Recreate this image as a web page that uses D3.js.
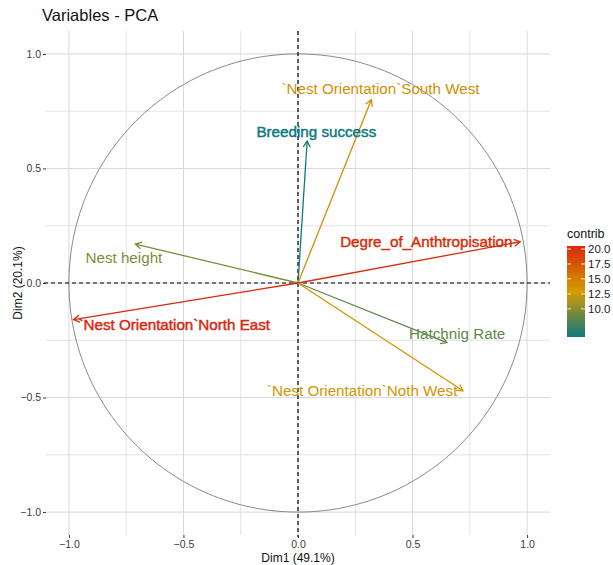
<!DOCTYPE html>
<html>
<head>
<meta charset="utf-8">
<script src="https://cdn.jsdelivr.net/npm/d3@7"></script>
<style>
  html, body { margin: 0; padding: 0; background: #fff; }
  svg { display: block; font-family: "Liberation Sans", Arial, sans-serif; }
</style>
</head>
<body>
<svg id="chart" width="613" height="565"></svg>
<script>
// PCA variable loadings on the first two dimensions
const variables = [
  "Breeding success",
  "`Nest Orientation`South West",
  "Degre_of_Anthtropisation",
  "Nest height",
  "`Nest Orientation`North East",
  "Hatchnig Rate",
  "`Nest Orientation`Noth West"
];
const dim1 = [0.04, 0.32, 0.97, -0.71, -0.98, 0.65, 0.72];
const dim2 = [0.62, 0.80, 0.18, 0.17, -0.16, -0.26, -0.47];
const contrib = [5.3, 13.8, 20.1, 9.6, 20.5, 8.4, 13.4];
const axisTicks = [-1.0, -0.5, 0.0, 0.5, 1.0];
const minorTicks = [-0.75, -0.25, 0.25, 0.75];
const legendTicks = [10.0, 12.5, 15.0, 17.5, 20.0];
const dimLabels = ["Dim1 (49.1%)", "Dim2 (20.1%)"];

// Label placement relative to each arrow tip, in data units
const labelNudge = [
  [0.04, 0.04], [0.04, 0.05], [-0.41, 0.0], [-0.05, -0.06],
  [0.44, -0.02], [0.045, 0.04], [-0.44, 0.0]
];
const heavyLabel = [true, false, true, false, true, false, false];

const svg = d3.select("#chart");
const panel = { left: 46, right: 550, top: 31, bottom: 535 };

const x = d3.scaleLinear().domain([-1.1, 1.1]).range([panel.left, panel.right]);
const y = d3.scaleLinear().domain([-1.1, 1.1]).range([panel.bottom, panel.top]);

const cMin = d3.min(contrib), cMax = d3.max(contrib);
const color = d3.scaleLinear()
  .domain([cMin, (cMin + cMax) / 2, cMax])
  .range(["#0e7880", "#d49c00", "#d8280e"])
  .interpolate(d3.interpolateRgb);

// grid
const grid = svg.append("g");
minorTicks.forEach(t => {
  grid.append("line").attr("x1", x(t)).attr("x2", x(t)).attr("y1", panel.top).attr("y2", panel.bottom)
    .attr("stroke", "#e3e3e3").attr("stroke-width", 1);
  grid.append("line").attr("y1", y(t)).attr("y2", y(t)).attr("x1", panel.left).attr("x2", panel.right)
    .attr("stroke", "#e3e3e3").attr("stroke-width", 1);
});
axisTicks.forEach(t => {
  grid.append("line").attr("x1", x(t)).attr("x2", x(t)).attr("y1", panel.top).attr("y2", panel.bottom)
    .attr("stroke", "#d8d8d8").attr("stroke-width", 1);
  grid.append("line").attr("y1", y(t)).attr("y2", y(t)).attr("x1", panel.left).attr("x2", panel.right)
    .attr("stroke", "#d8d8d8").attr("stroke-width", 1);
});

// correlation circle
const circle = d3.range(0, 361, 2).map(a => [Math.cos(a * Math.PI / 180), Math.sin(a * Math.PI / 180)]);
svg.append("path")
  .attr("d", d3.line().x(d => x(d[0])).y(d => y(d[1]))(circle))
  .attr("fill", "none").attr("stroke", "#8a8a8a").attr("stroke-width", 1);

// reference lines through origin
svg.append("line").attr("x1", x(0)).attr("x2", x(0)).attr("y1", panel.top).attr("y2", panel.bottom + 2)
  .attr("stroke", "#000").attr("stroke-width", 1.2).attr("stroke-dasharray", "4,3");
svg.append("line").attr("y1", y(0)).attr("y2", y(0)).attr("x1", panel.left - 2).attr("x2", panel.right)
  .attr("stroke", "#000").attr("stroke-width", 1.2).attr("stroke-dasharray", "4,3");

// arrows
const arrows = svg.append("g");
variables.forEach((v, i) => {
  const x0 = x(0), y0 = y(0), x1 = x(dim1[i]), y1 = y(dim2[i]);
  const col = color(contrib[i]);
  arrows.append("line").attr("x1", x0).attr("y1", y0).attr("x2", x1).attr("y2", y1)
    .attr("stroke", col).attr("stroke-width", 1.3);
  const ang = Math.atan2(y1 - y0, x1 - x0);
  const len = 7, spread = Math.PI / 6;
  const head = [
    [x1 - len * Math.cos(ang - spread), y1 - len * Math.sin(ang - spread)],
    [x1, y1],
    [x1 - len * Math.cos(ang + spread), y1 - len * Math.sin(ang + spread)]
  ];
  arrows.append("path").attr("d", d3.line()(head))
    .attr("fill", "none").attr("stroke", col).attr("stroke-width", 1.3);
});

// variable labels
variables.forEach((v, i) => {
  const col = color(contrib[i]);
  svg.append("text")
    .attr("x", x(dim1[i] + labelNudge[i][0]))
    .attr("y", y(dim2[i] + labelNudge[i][1]))
    .attr("dy", "0.35em")
    .attr("text-anchor", "middle")
    .attr("font-size", 15.2)
    .attr("fill", col)
    .attr("stroke", heavyLabel[i] ? col : "none")
    .attr("stroke-width", heavyLabel[i] ? 0.45 : 0)
    .text(v);
});

// axes
const fmt = d3.format(".1f");
const xAxis = svg.append("g").attr("transform", `translate(0,${panel.bottom})`)
  .call(d3.axisBottom(x).tickValues(axisTicks).tickFormat(fmt).tickSize(3).tickPadding(3));
const yAxis = svg.append("g").attr("transform", `translate(${panel.left},0)`)
  .call(d3.axisLeft(y).tickValues(axisTicks).tickFormat(fmt).tickSize(3).tickPadding(2));
[xAxis, yAxis].forEach(a => {
  a.select(".domain").remove();
  a.selectAll(".tick line").attr("stroke", "#333");
  a.selectAll(".tick text").attr("fill", "#3a3a3a").attr("font-size", 10.5)
    .attr("font-family", "'Liberation Sans', Arial, sans-serif");
});

svg.append("text").attr("x", x(0)).attr("y", 562).attr("text-anchor", "middle")
  .attr("font-size", 12).attr("fill", "#111").text(dimLabels[0]);
svg.append("text").attr("transform", `translate(22,${y(0)}) rotate(-90)`)
  .attr("text-anchor", "middle").attr("font-size", 12).attr("fill", "#111").text(dimLabels[1]);

// title
svg.append("text").attr("x", 42).attr("y", 21).attr("font-size", 16.5).attr("fill", "#111")
  .text("Variables - PCA");

// colour legend
const leg = { x: 567, top: 246, bottom: 337, w: 18 };
const ly = d3.scaleLinear().domain([cMin, cMax]).range([leg.bottom, leg.top]);
const defs = svg.append("defs");
const grad = defs.append("linearGradient").attr("id", "contribGrad")
  .attr("x1", 0).attr("x2", 0).attr("y1", 1).attr("y2", 0);
d3.range(0, 1.0001, 0.05).forEach(t => {
  grad.append("stop").attr("offset", t).attr("stop-color", color(cMin + t * (cMax - cMin)));
});
svg.append("rect").attr("x", leg.x).attr("y", leg.top).attr("width", leg.w)
  .attr("height", leg.bottom - leg.top).attr("fill", "url(#contribGrad)");
legendTicks.forEach(t => {
  const yy = ly(t);
  svg.append("line").attr("x1", leg.x).attr("x2", leg.x + 4).attr("y1", yy).attr("y2", yy)
    .attr("stroke", "#f2e8a0").attr("stroke-width", 1);
  svg.append("line").attr("x1", leg.x + leg.w - 4).attr("x2", leg.x + leg.w).attr("y1", yy).attr("y2", yy)
    .attr("stroke", "#f2e8a0").attr("stroke-width", 1);
  svg.append("text").attr("x", leg.x + leg.w + 3).attr("y", yy).attr("dy", "0.35em")
    .attr("font-size", 11.5).attr("fill", "#222").text(fmt(t));
});
svg.append("text").attr("x", leg.x).attr("y", 238).attr("font-size", 12.5).attr("fill", "#111")
  .text("contrib");
</script>
</body>
</html>
